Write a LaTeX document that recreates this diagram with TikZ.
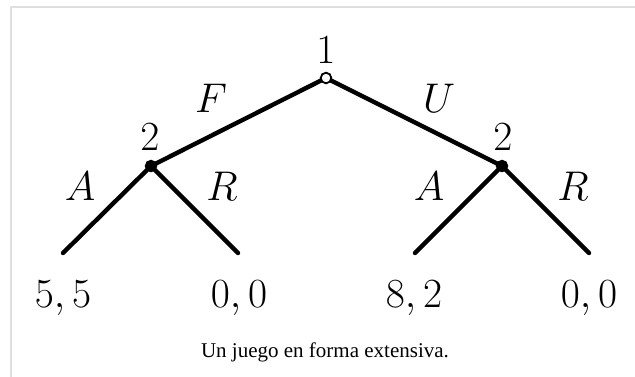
\documentclass[tikz,border=0pt]{standalone}
\usepackage{fontspec}
\newfontfamily\capfont{Liberation Serif}
\usetikzlibrary{positioning}

\begin{document}
\begin{tikzpicture}[
  x=0.5pt,y=-0.5pt,
  font=\fontsize{20}{24}\selectfont,
  branch/.style={line width=2.2pt,line cap=round},
  decnode/.style={circle,draw,line width=0.9pt,fill=black,
                  inner sep=0pt,minimum size=5.3pt},
  rootnode/.style={decnode,fill=white},
  lbl/.style={inner sep=0pt}
]
  \useasboundingbox (0,0) rectangle (635,376);
  % thumbnail frame
  \begin{scope}
    \clip (0,0) rectangle (635,376);
    \draw[gray!25,line width=1pt] (11,7) rectangle (660,400);
  \end{scope}

  % decision nodes
  \coordinate (root) at (326,78);
  \coordinate (left) at (151,166);
  \coordinate (right) at (502,166);
  % ends of the branches
  \coordinate (FA) at (63,253);
  \coordinate (FR) at (238,253);
  \coordinate (UA) at (415,253);
  \coordinate (UR) at (589,253);

  \draw[branch] (left) -- (root) -- (right);
  \draw[branch] (FA) -- (left) -- (FR);
  \draw[branch] (UA) -- (right) -- (UR);

  \node[rootnode] (n1) at (root) {};
  \node[decnode] (n2a) at (left) {};
  \node[decnode] (n2b) at (right) {};

  % players
  \node[lbl,anchor=base] (pl1) at (326,63) {$1$};
  \node[lbl,anchor=base] (pl2a) at (150,150) {$2$};
  \node[lbl,anchor=base] (pl2b) at (503,150) {$2$};

  % actions
  \node[lbl,anchor=base] (aF) at (211,112) {$F$};
  \node[lbl,anchor=base] (aU) at (439,112) {$U$};
  \node[lbl,anchor=base] (aFA) at (80,200) {$A$};
  \node[lbl,anchor=base] (aFR) at (222,200) {$R$};
  \node[lbl,anchor=base] (aUA) at (429,200) {$A$};
  \node[lbl,anchor=base] (aUR) at (573,200) {$R$};

  % payoffs
  \node[lbl,anchor=base] (pFA) at (63,307) {$5,5$};
  \node[lbl,anchor=base] (pFR) at (239,307) {$0,0$};
  \node[lbl,anchor=base] (pUA) at (414,307) {$8,2$};
  \node[lbl,anchor=base] (pUR) at (589,307) {$0,0$};

  \node[font=\capfont\fontsize{10.5}{12}\selectfont,anchor=base] (cap)
    at (325,357) {Un juego en forma extensiva.};
\end{tikzpicture}
\end{document}
